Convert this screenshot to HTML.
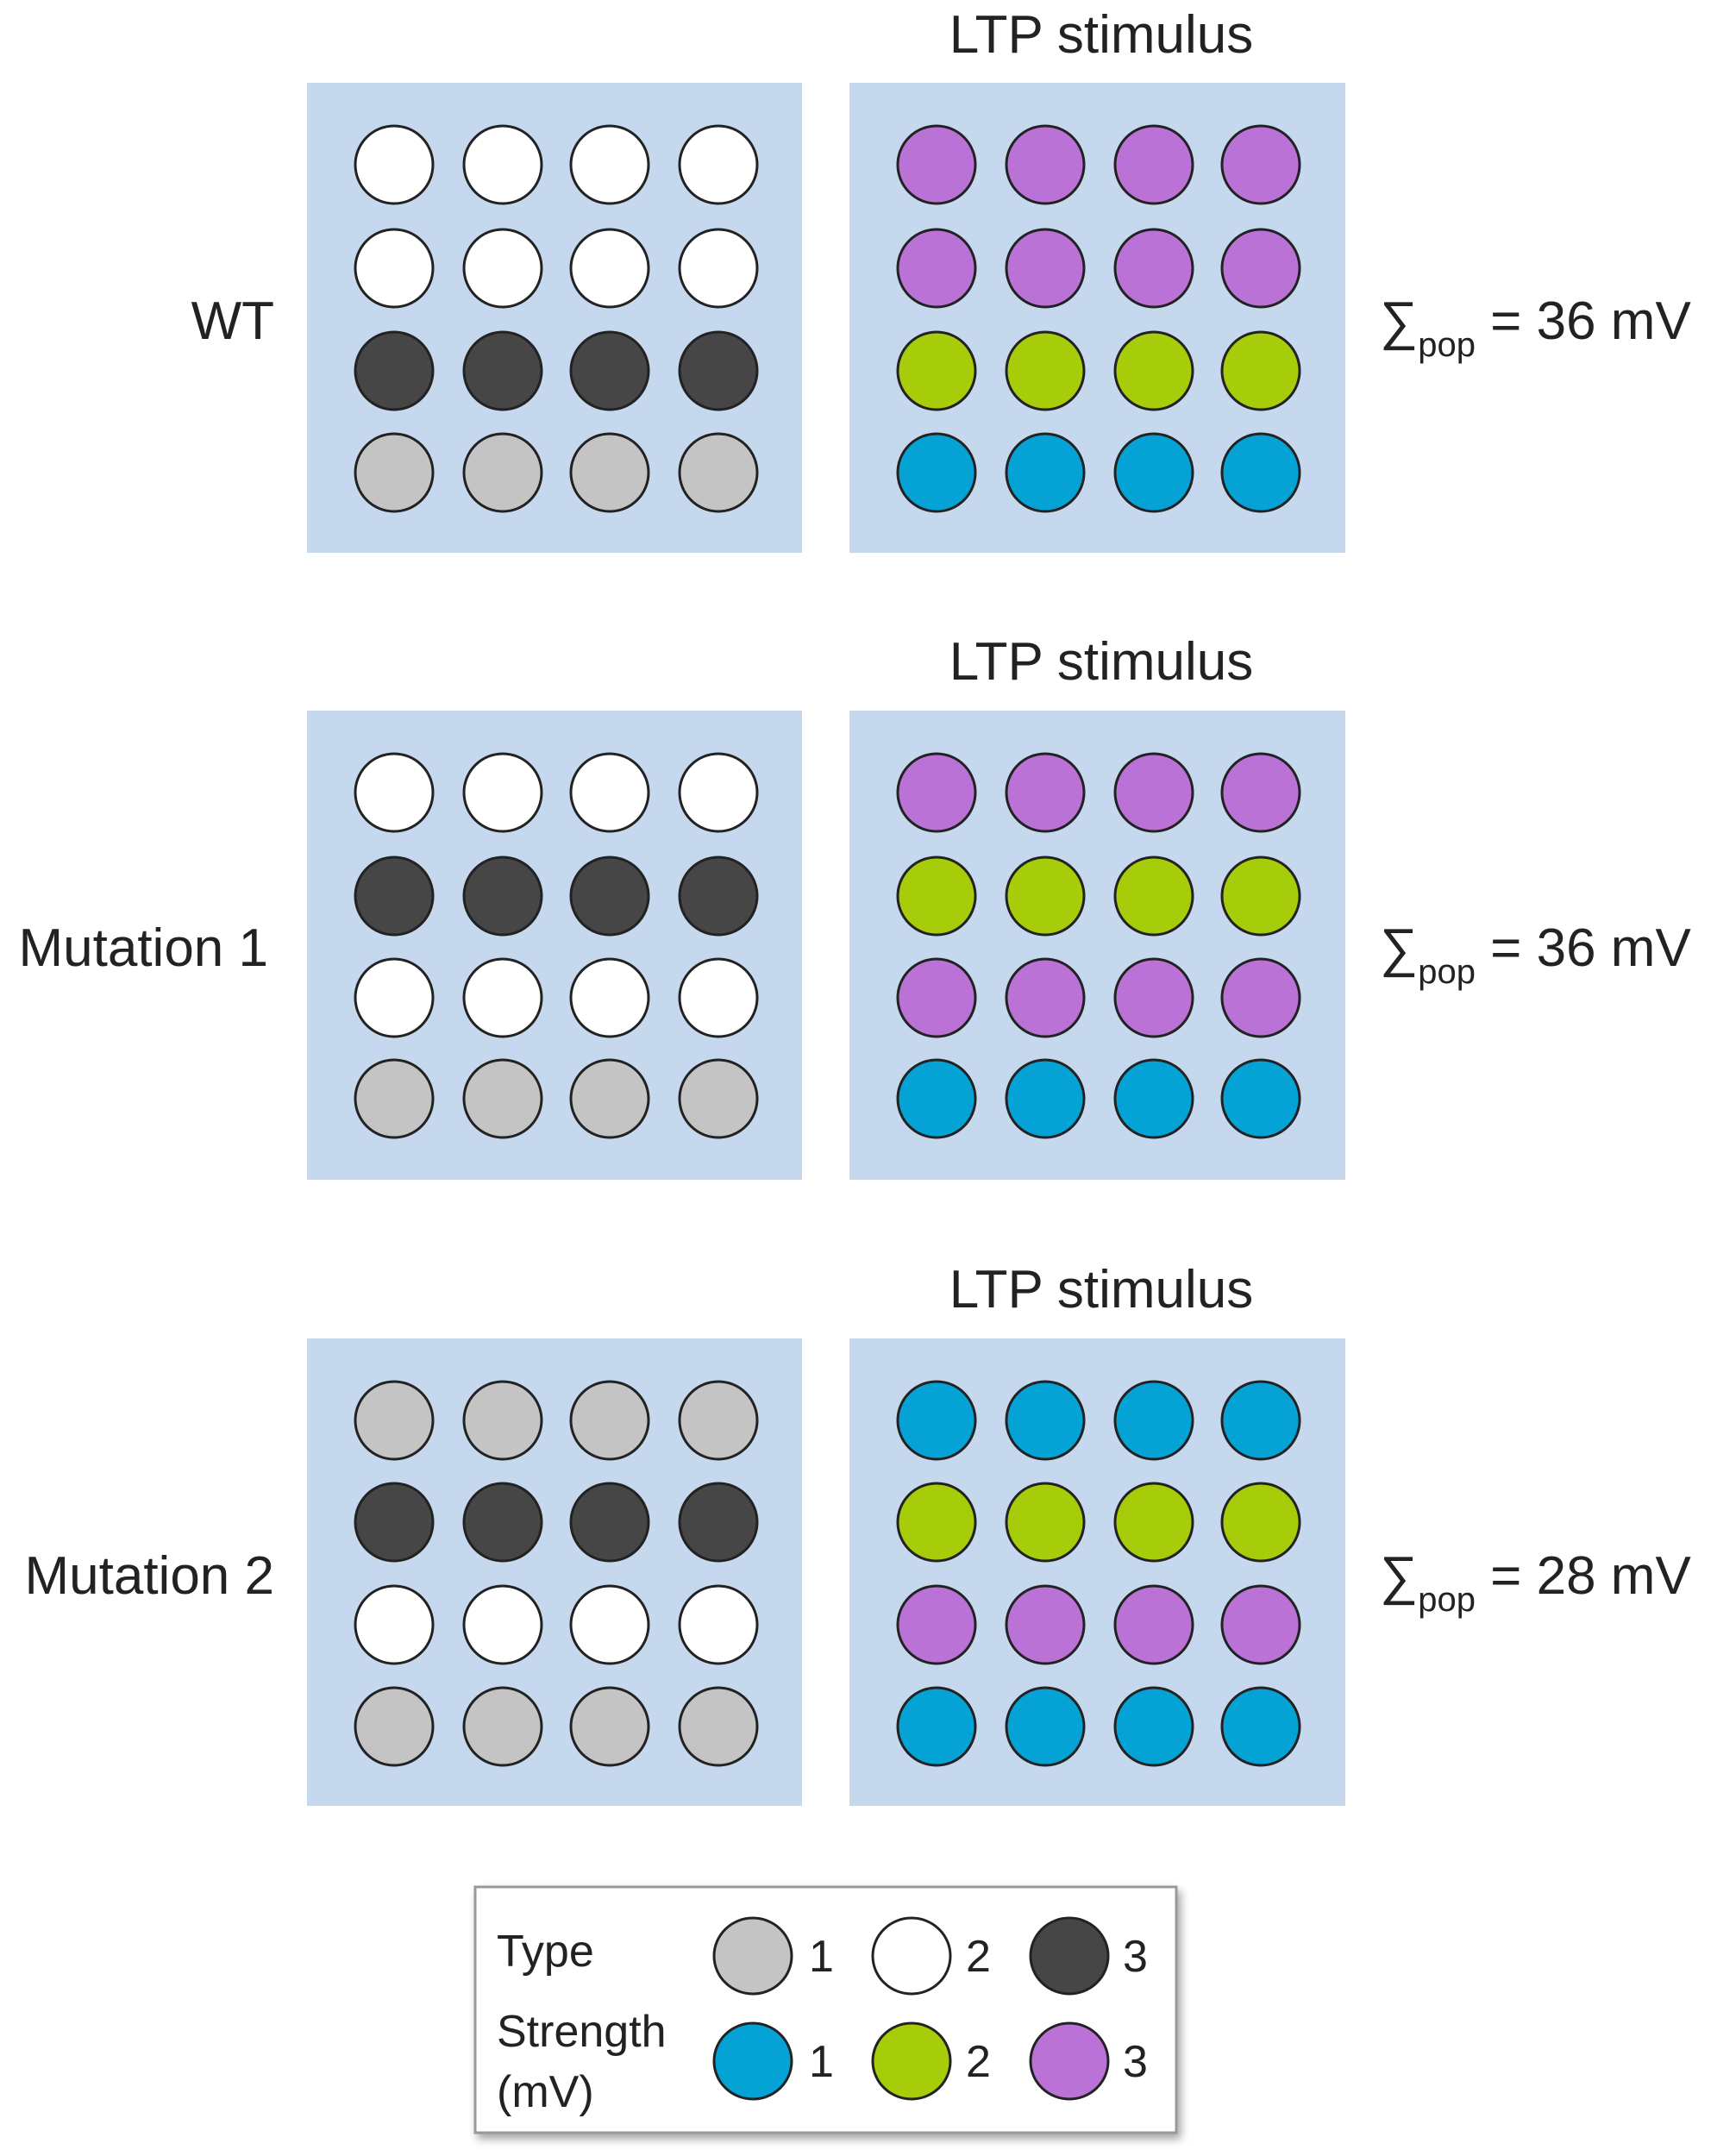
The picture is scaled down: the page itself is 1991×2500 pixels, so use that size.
<!DOCTYPE html>
<html><head><meta charset="utf-8"><style>
html,body{margin:0;padding:0;background:#fff;}
svg{display:block;}
text{font-family:"Liberation Sans",Arial,sans-serif;fill:#222;}
</style></head><body>
<svg width="1991" height="2500" viewBox="0 0 1991 2500" xmlns="http://www.w3.org/2000/svg">
<defs>
<filter id="sh" x="-5%" y="-5%" width="115%" height="120%"><feDropShadow dx="4" dy="6" stdDeviation="5" flood-color="#000" flood-opacity="0.35"/></filter>
</defs>
<g id="panels">
<rect x="356" y="96" width="574" height="545" fill="#c5d8ee"/>
<rect x="985" y="96" width="575" height="545" fill="#c5d8ee"/>
<rect x="356" y="824" width="574" height="544" fill="#c5d8ee"/>
<rect x="985" y="824" width="575" height="544" fill="#c5d8ee"/>
<rect x="356" y="1552" width="574" height="542" fill="#c5d8ee"/>
<rect x="985" y="1552" width="575" height="542" fill="#c5d8ee"/>
</g>
<g stroke="#222" stroke-width="3">
<!-- WT left -->
<g fill="#ffffff"><circle cx="457" cy="191" r="45"/><circle cx="583" cy="191" r="45"/><circle cx="707" cy="191" r="45"/><circle cx="833" cy="191" r="45"/>
<circle cx="457" cy="311" r="45"/><circle cx="583" cy="311" r="45"/><circle cx="707" cy="311" r="45"/><circle cx="833" cy="311" r="45"/></g>
<g fill="#464646"><circle cx="457" cy="430" r="45"/><circle cx="583" cy="430" r="45"/><circle cx="707" cy="430" r="45"/><circle cx="833" cy="430" r="45"/></g>
<g fill="#c4c4c4"><circle cx="457" cy="548" r="45"/><circle cx="583" cy="548" r="45"/><circle cx="707" cy="548" r="45"/><circle cx="833" cy="548" r="45"/></g>
<!-- WT right -->
<g fill="#bb72d6"><circle cx="1086" cy="191" r="45"/><circle cx="1212" cy="191" r="45"/><circle cx="1338" cy="191" r="45"/><circle cx="1462" cy="191" r="45"/>
<circle cx="1086" cy="311" r="45"/><circle cx="1212" cy="311" r="45"/><circle cx="1338" cy="311" r="45"/><circle cx="1462" cy="311" r="45"/></g>
<g fill="#a6cc0a"><circle cx="1086" cy="430" r="45"/><circle cx="1212" cy="430" r="45"/><circle cx="1338" cy="430" r="45"/><circle cx="1462" cy="430" r="45"/></g>
<g fill="#05a2d6"><circle cx="1086" cy="548" r="45"/><circle cx="1212" cy="548" r="45"/><circle cx="1338" cy="548" r="45"/><circle cx="1462" cy="548" r="45"/></g>
<!-- M1 left -->
<g fill="#ffffff"><circle cx="457" cy="919" r="45"/><circle cx="583" cy="919" r="45"/><circle cx="707" cy="919" r="45"/><circle cx="833" cy="919" r="45"/>
<circle cx="457" cy="1157" r="45"/><circle cx="583" cy="1157" r="45"/><circle cx="707" cy="1157" r="45"/><circle cx="833" cy="1157" r="45"/></g>
<g fill="#464646"><circle cx="457" cy="1039" r="45"/><circle cx="583" cy="1039" r="45"/><circle cx="707" cy="1039" r="45"/><circle cx="833" cy="1039" r="45"/></g>
<g fill="#c4c4c4"><circle cx="457" cy="1274" r="45"/><circle cx="583" cy="1274" r="45"/><circle cx="707" cy="1274" r="45"/><circle cx="833" cy="1274" r="45"/></g>
<!-- M1 right -->
<g fill="#bb72d6"><circle cx="1086" cy="919" r="45"/><circle cx="1212" cy="919" r="45"/><circle cx="1338" cy="919" r="45"/><circle cx="1462" cy="919" r="45"/>
<circle cx="1086" cy="1157" r="45"/><circle cx="1212" cy="1157" r="45"/><circle cx="1338" cy="1157" r="45"/><circle cx="1462" cy="1157" r="45"/></g>
<g fill="#a6cc0a"><circle cx="1086" cy="1039" r="45"/><circle cx="1212" cy="1039" r="45"/><circle cx="1338" cy="1039" r="45"/><circle cx="1462" cy="1039" r="45"/></g>
<g fill="#05a2d6"><circle cx="1086" cy="1274" r="45"/><circle cx="1212" cy="1274" r="45"/><circle cx="1338" cy="1274" r="45"/><circle cx="1462" cy="1274" r="45"/></g>
<!-- M2 left -->
<g fill="#c4c4c4"><circle cx="457" cy="1647" r="45"/><circle cx="583" cy="1647" r="45"/><circle cx="707" cy="1647" r="45"/><circle cx="833" cy="1647" r="45"/>
<circle cx="457" cy="2002" r="45"/><circle cx="583" cy="2002" r="45"/><circle cx="707" cy="2002" r="45"/><circle cx="833" cy="2002" r="45"/></g>
<g fill="#464646"><circle cx="457" cy="1765" r="45"/><circle cx="583" cy="1765" r="45"/><circle cx="707" cy="1765" r="45"/><circle cx="833" cy="1765" r="45"/></g>
<g fill="#ffffff"><circle cx="457" cy="1884" r="45"/><circle cx="583" cy="1884" r="45"/><circle cx="707" cy="1884" r="45"/><circle cx="833" cy="1884" r="45"/></g>
<!-- M2 right -->
<g fill="#05a2d6"><circle cx="1086" cy="1647" r="45"/><circle cx="1212" cy="1647" r="45"/><circle cx="1338" cy="1647" r="45"/><circle cx="1462" cy="1647" r="45"/>
<circle cx="1086" cy="2002" r="45"/><circle cx="1212" cy="2002" r="45"/><circle cx="1338" cy="2002" r="45"/><circle cx="1462" cy="2002" r="45"/></g>
<g fill="#a6cc0a"><circle cx="1086" cy="1765" r="45"/><circle cx="1212" cy="1765" r="45"/><circle cx="1338" cy="1765" r="45"/><circle cx="1462" cy="1765" r="45"/></g>
<g fill="#bb72d6"><circle cx="1086" cy="1884" r="45"/><circle cx="1212" cy="1884" r="45"/><circle cx="1338" cy="1884" r="45"/><circle cx="1462" cy="1884" r="45"/></g>
</g>
<g font-size="62">
<text x="1277" y="61" text-anchor="middle">LTP stimulus</text>
<text x="1277" y="788" text-anchor="middle">LTP stimulus</text>
<text x="1277" y="1516" text-anchor="middle">LTP stimulus</text>
<text x="318" y="393" text-anchor="end">WT</text>
<text x="311" y="1120" text-anchor="end">Mutation 1</text>
<text x="318" y="1848" text-anchor="end">Mutation 2</text>
</g>
<g font-size="62">
<text x="1600" y="393">∑<tspan font-size="40" dy="20">pop</tspan><tspan dy="-20"> = 36 mV</tspan></text>
<text x="1600" y="1120">∑<tspan font-size="40" dy="20">pop</tspan><tspan dy="-20"> = 36 mV</tspan></text>
<text x="1600" y="1848">∑<tspan font-size="40" dy="20">pop</tspan><tspan dy="-20"> = 28 mV</tspan></text>
</g>
<rect x="551" y="2188" width="813" height="285" fill="#fff" stroke="#999" stroke-width="3" filter="url(#sh)"/>
<g font-size="52">
<text x="576" y="2280">Type</text>
<text x="576" y="2373">Strength</text>
<text x="576" y="2443">(mV)</text>
</g>
<g stroke="#222" stroke-width="3">
<ellipse cx="873" cy="2268" rx="45" ry="44" fill="#c4c4c4"/>
<ellipse cx="1057" cy="2268" rx="45" ry="44" fill="#fff"/>
<ellipse cx="1240" cy="2268" rx="45" ry="44" fill="#464646"/>
<ellipse cx="873" cy="2390" rx="45" ry="44" fill="#05a2d6"/>
<ellipse cx="1057" cy="2390" rx="45" ry="44" fill="#a6cc0a"/>
<ellipse cx="1240" cy="2390" rx="45" ry="44" fill="#bb72d6"/>
</g>
<g font-size="52">
<text x="938" y="2286">1</text><text x="1120" y="2286">2</text><text x="1302" y="2286">3</text>
<text x="938" y="2408">1</text><text x="1120" y="2408">2</text><text x="1302" y="2408">3</text>
</g>
</svg>
</body></html>
